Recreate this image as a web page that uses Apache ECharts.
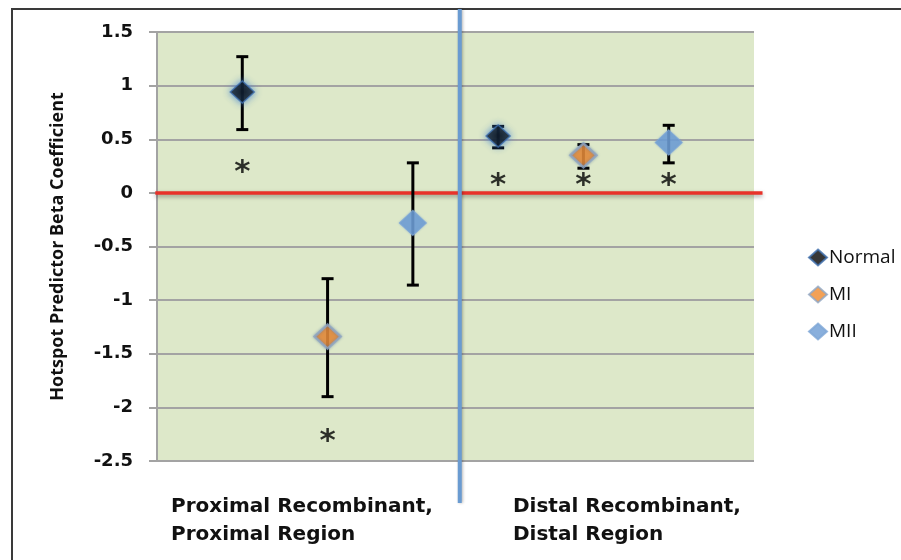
<!DOCTYPE html>
<html>
<head>
<meta charset="utf-8">
<script src="https://cdn.jsdelivr.net/npm/echarts@6/dist/echarts.min.js"></script>
<style>
  html, body { margin: 0; padding: 0; background: #fff; }
  #chart { width: 901px; height: 560px; }
</style>
</head>
<body>
<div id="chart"></div>
<script>
// Region groups (drawn beneath the plot) and series names
const groupLabels = ['Proximal Recombinant,\nProximal Region', 'Distal Recombinant,\nDistal Region'];
const seriesNames = ['Normal', 'MI', 'MII'];

// Slot of each estimate along the horizontal axis (proximal: 1-3, distal: 4-6)
const normalSlots = [1, 4];
const miSlots = [2, 5];
const miiSlots = [3, 6];

// Beta coefficients with lower / upper error limits
const normalBeta = [0.94, 0.53];
const normalLow = [0.59, 0.42];
const normalHigh = [1.27, 0.62];

const miBeta = [-1.34, 0.35];
const miLow = [-1.90, 0.23];
const miHigh = [-0.80, 0.45];

const miiBeta = [-0.28, 0.47];
const miiLow = [-0.86, 0.28];
const miiHigh = [0.28, 0.63];

// Significance markers
const starSlots = [1, 2, 4, 5, 6];
const starValues = [0.23, -2.28, 0.11, 0.11, 0.11];

// Value axis ticks
const yTicks = [-2.5, -2, -1.5, -1, -0.5, 0, 0.5, 1, 1.5];
const baselineValue = 0;
const dividerSlot = 3.55;

const chart = echarts.init(document.getElementById('chart'), null, { renderer: 'canvas' });

const pts = (slots, vals) => slots.map((s, i) => [s, vals[i]]);
const bars = (slots, lo, hi) => slots.map((s, i) => [s, lo[i], hi[i]]);

const errorData = [
  ...bars(normalSlots, normalLow, normalHigh),
  ...bars(miSlots, miLow, miHigh),
  ...bars(miiSlots, miiLow, miiHigh)
];

// Vertical error bar with flat caps
function renderErrorBar(params, api) {
  const x = api.value(0);
  const top = api.coord([x, api.value(2)]);
  const bot = api.coord([x, api.value(1)]);
  const hw = 6;
  const st = { stroke: '#000', lineWidth: 3 };
  return {
    type: 'group',
    children: [
      { type: 'line', shape: { x1: top[0], y1: top[1], x2: bot[0], y2: bot[1] }, style: st },
      { type: 'line', shape: { x1: top[0] - hw, y1: top[1], x2: top[0] + hw, y2: top[1] }, style: st },
      { type: 'line', shape: { x1: bot[0] - hw, y1: bot[1], x2: bot[0] + hw, y2: bot[1] }, style: st }
    ]
  };
}

// Red zero line, running slightly past the plot's right edge
function renderBaseline(params, api) {
  const a = api.coord([-0.02, api.value(0)]);
  const b = api.coord([7.1, api.value(0)]);
  return {
    type: 'line',
    shape: { x1: a[0], y1: a[1], x2: b[0], y2: b[1] },
    style: { stroke: '#e8322a', lineWidth: 3.5, shadowBlur: 4, shadowColor: 'rgba(0,0,0,0.35)', shadowOffsetY: 2 }
  };
}

// Blue separator between the proximal and distal groups
function renderDivider(params, api) {
  const p = api.coord([api.value(0), 1.5]);
  const cs = params.coordSys;
  return {
    type: 'line',
    shape: { x1: p[0], y1: cs.y - 23, x2: p[0], y2: cs.y + cs.height + 42 },
    style: { stroke: '#6a9bd1', lineWidth: 4, shadowBlur: 3, shadowColor: 'rgba(0,0,0,0.3)', shadowOffsetX: 1 }
  };
}

const labelFont = 'DejaVu Sans';

chart.setOption({
  animation: false,
  backgroundColor: '#fff',
  grid: { left: 157, right: 147, top: 32, bottom: 99, show: true, backgroundColor: '#dde8c9', borderWidth: 0 },
  xAxis: {
    type: 'value', min: 0, max: 7, show: false
  },
  yAxis: {
    type: 'value', min: -2.5, max: 1.5, interval: 0.5,
    name: 'Hotspot Predictor Beta Coefficient',
    nameLocation: 'middle', nameGap: 90, nameRotate: 90,
    nameTextStyle: { fontFamily: 'Open Sans', fontWeight: 'bold', fontSize: 18, color: '#111' },
    axisLine: { show: true, lineStyle: { color: '#a3a3a3', width: 2 } },
    axisTick: { show: true, length: 8, lineStyle: { color: '#a3a3a3', width: 2 } },
    axisLabel: {
      margin: 24, fontFamily: labelFont, fontWeight: 'bold', fontSize: 18, color: '#111',
      formatter: v => String(yTicks.find(t => Math.abs(t - v) < 1e-9) ?? v)
    },
    splitLine: { show: true, lineStyle: { color: '#a3a3a3', width: 2 } }
  },
  legend: {
    orient: 'vertical', left: 803, top: 243, itemGap: 18, itemWidth: 18, itemHeight: 16,
    icon: 'diamond', data: seriesNames,
    textStyle: { fontFamily: 'Open Sans', fontSize: 19, color: '#111', padding: [0, 0, 0, -3] }
  },
  graphic: [
    { type: 'polyline', z: -1, silent: true, shape: { points: [[12, 600], [12, 9], [905, 9]] },
      style: { fill: null, stroke: '#3a3a3a', lineWidth: 2 } },
    { type: 'text', left: 171, top: 493, silent: true,
      style: { text: groupLabels[0], font: 'bold 20px "DejaVu Sans"', fill: '#111', lineHeight: 28 } },
    { type: 'text', left: 513, top: 493, silent: true,
      style: { text: groupLabels[1], font: 'bold 20px "DejaVu Sans"', fill: '#111', lineHeight: 28 } }
  ],
  series: [
    { type: 'custom', name: 'baseline', renderItem: renderBaseline, clip: false, z: 2,
      data: [[baselineValue]], encode: { x: -1, y: 0 }, silent: true },
    { type: 'custom', name: 'errors', renderItem: renderErrorBar, z: 3,
      data: errorData, encode: { x: 0, y: [1, 2] }, silent: true },
    { type: 'custom', name: 'divider', renderItem: renderDivider, clip: false, z: 6,
      data: [[dividerSlot]], encode: { x: 0, y: -1 }, silent: true },
    {
      name: 'Normal', type: 'scatter', z: 5, symbol: 'diamond', symbolSize: [24, 22],
      data: pts(normalSlots, normalBeta),
      itemStyle: { color: '#050505', borderColor: '#3f6fae', borderWidth: 1.5, shadowBlur: 7, shadowColor: '#3f7fd0' }
    },
    {
      name: 'MI', type: 'scatter', z: 5, symbol: 'diamond', symbolSize: [26, 24],
      data: pts(miSlots, miBeta),
      itemStyle: { color: '#f08a2c', borderColor: '#8ea6c4', borderWidth: 2.5, shadowBlur: 3, shadowColor: 'rgba(80,110,160,0.6)' }
    },
    {
      name: 'MII', type: 'scatter', z: 5, symbol: 'diamond', symbolSize: [27, 25],
      data: pts(miiSlots, miiBeta),
      itemStyle: { color: '#6b9bd3', borderColor: '#7ea6d6', borderWidth: 1, shadowBlur: 2, shadowColor: 'rgba(107,155,211,0.6)' }
    },
    {
      name: 'stars', type: 'scatter', z: 4, symbolSize: 1, itemStyle: { color: 'rgba(0,0,0,0)' },
      data: pts(starSlots, starValues), silent: true,
      label: { show: true, position: 'inside', formatter: '*', offset: [0, 5],
        fontFamily: labelFont, fontWeight: 'bold', fontSize: 31, color: '#000' }
    }
  ]
});
</script>
</body>
</html>
